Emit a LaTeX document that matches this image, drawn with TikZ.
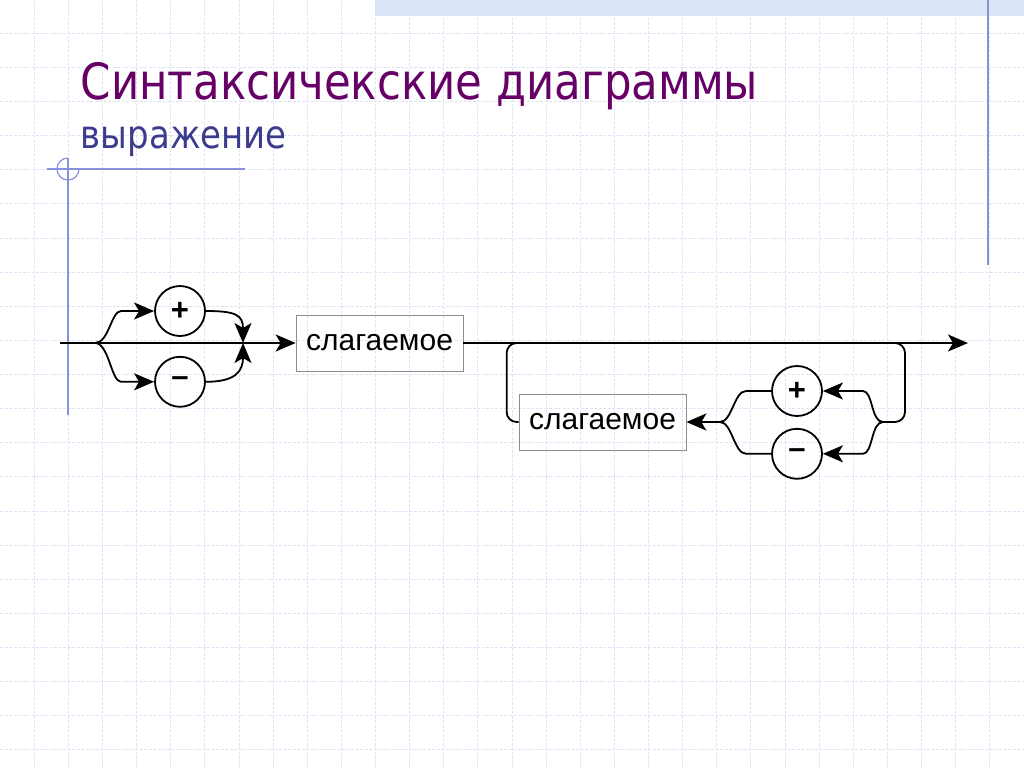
\documentclass[tikz,border=0pt]{standalone}
\usepackage{fontspec}
\setmainfont{Liberation Sans}
\newfontfamily\titlefont[FakeStretch=0.87]{DejaVu Sans}
\usetikzlibrary{positioning, arrows.meta}
\definecolor{titlepurple}{RGB}{102,0,102}
\definecolor{subblue}{RGB}{60,60,140}
\definecolor{gridline}{RGB}{224,227,245}
\definecolor{rulecol}{RGB}{135,145,220}
\definecolor{band}{RGB}{218,228,246}

\begin{document}
\begin{tikzpicture}[
    x=1pt, y=-1pt,
    line width=1.8pt,
    flow/.style={-{Stealth[length=20pt, width=17pt, inset=5pt]}},
    box/.style={draw=black!45, line width=0.7pt, minimum width=167pt, minimum height=56pt, inner sep=0pt, font=\fontsize{30}{36}\selectfont},
    sign/.style={circle, draw, minimum size=50pt, inner sep=0pt, line width=1.8pt, font=\fontsize{31}{36}\selectfont\bfseries},
    gridrule/.style={gridline, line width=0.8pt, dash pattern=on 3pt off 1.5pt}
  ]

  % --- ФОН: сетка и линейки ---
  \useasboundingbox (0,0) rectangle (1024,768);
  \fill[white] (0,0) rectangle (1024,768);
  \foreach \k in {1,...,29} \draw[gridrule] (\k*34.13,0) -- (\k*34.13,768);
  \foreach \k in {1,...,22} \draw[gridrule] (0,\k*34.13-1) -- (1024,\k*34.13-1);
  \fill[band] (375,0) rectangle (1024,16);
  \draw[rulecol, line width=1.5pt] (988,0) -- (988,265);
  \draw[rulecol, line width=1.2pt] (47,169) -- (245,169);
  \draw[rulecol, line width=1.2pt] (68,158) -- (68,415);
  \draw[rulecol, line width=1.2pt] (79,169) arc[start angle=0, end angle=270, radius=11];

  % --- ЗАГОЛОВОК ---
  \node[anchor=base west, inner sep=0pt, text=titlepurple, font=\titlefont\fontsize{50}{60}\selectfont] (title) at (80,99) {Синтаксичекские диаграммы};
  \node[anchor=base west, inner sep=0pt, text=subblue, font=\titlefont\fontsize{39}{44}\selectfont] (subtitle) at (80,148) {выражение};

  % --- УЗЛЫ ---

  % знак перед первым слагаемым
  \node[sign] (plus1) at (180,311) {+};
  \node[sign, below=19pt of plus1] (minus1) {–};

  % слагаемые
  \node[box] (slag1) at (379.5,343) {слагаемое};
  \node[box] (slag2) at (602.5,422) {слагаемое};

  % знаки в цикле
  \node[sign] (plus2) at (797,391) {+};
  \node[sign, below=11pt of plus2] (minus2) {–};

  % точки ветвления
  \coordinate (start) at (60,343);
  \coordinate (split1) at (95,343);
  \coordinate (join1) at (243,343);
  \coordinate (loopL) at (530,343);
  \coordinate (loopR) at (893,343);
  \coordinate (split2) at (883,422);
  \coordinate (split3) at (720,422);
  \coordinate (finish) at (968,343);

  % --- СВЯЗИ ---

  % 1. Необязательный знак
  \draw[flow] (start) -- (slag1);
  \draw[flow] (split1) .. controls +(14,0) and +(-10,0) .. ([xshift=-33pt]plus1.west) -- (plus1);
  \draw[flow] (split1) .. controls +(14,0) and +(-10,0) .. ([xshift=-33pt]minus1.west) -- (minus1);
  \draw[flow] (plus1) -- (plus1.east) .. controls +(30,0) and +(0,-28) .. (join1);
  \draw[flow] (minus1) -- (minus1.east) .. controls +(30,0) and +(0,28) .. (join1);

  % 2. Выход
  \draw[flow] (slag1) -- (finish);

  % 3. Цикл: знак и очередное слагаемое
  \draw[rounded corners=10pt] (loopR) -| ([xshift=22pt]split2) -- (split2);
  \draw[flow] (split2) .. controls +(-12,0) and +(10,0) .. ([xshift=40pt]plus2.east) -- (plus2);
  \draw[flow] (split2) .. controls +(-12,0) and +(10,0) .. ([xshift=40pt]minus2.east) -- (minus2);
  \draw (plus2) -- ([xshift=-25pt]plus2.west) .. controls +(-12,0) and +(12,0) .. (split3);
  \draw (minus2) -- ([xshift=-25pt]minus2.west) .. controls +(-12,0) and +(12,0) .. (split3);
  \draw[flow] (split3) -- (slag2);
  \draw[rounded corners=10pt] (slag2) -- ([xshift=-12pt]slag2.west) |- (loopL);

\end{tikzpicture}
\end{document}
